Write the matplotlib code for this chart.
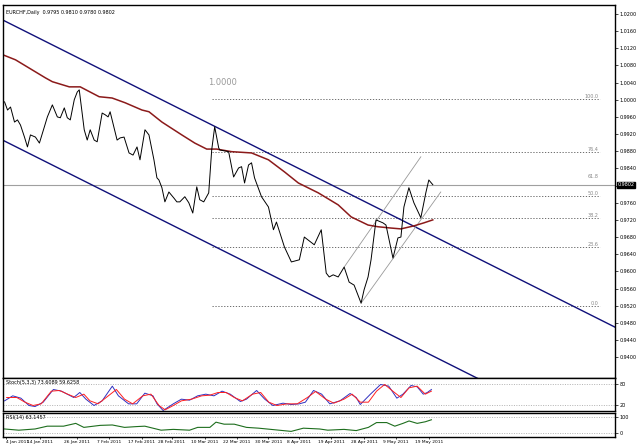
import matplotlib
matplotlib.use("Agg")
import matplotlib.pyplot as plt
import numpy as np

# ---- data (day index, price) ----
price_day = [0.5,1.25,2,3,3.75,4.5,5.5,6.25,7,8.25,9.25,10.5,11.25,12.5,13.75,14.5,15.5,16.25,17,18,18.75,19.25,20.5,21.25,22,23,23.75,25,25.75,26.5,27,28.75,29.5,30.5,31.75,32.75,33.75,34.5,35.75,36.75,38,38.75,39.25,40,40.75,41.75,43,43.75,44.5,45.75,46.75,47.75,48.75,49.5,50.5,51.75,52.5,53.25,54.25,54.5,56.75,58,59.25,60,60.75,61.75,62.5,63.25,65,66.75,68,68.75,70.75,72.5,74.5,75.75,78.25,80,81.25,82,83,84.25,85.75,87,88.25,90,90.75,91.75,92.5,93.75,95.5,96.25,98,99.25,100,100.75,102,103.25,105,106.25,107,108]
price = [0.9995,0.9976,0.9983,0.9948,0.9953,0.9941,0.9913,0.9890,0.9918,0.9913,0.9899,0.9937,0.9960,0.9988,0.9960,0.9958,0.9981,0.9958,0.9953,1.0000,1.0018,1.0023,0.9930,0.9906,0.9930,0.9906,0.9902,0.9969,0.9965,0.9960,0.9972,0.9906,0.9911,0.9913,0.9876,0.9871,0.9890,0.9860,0.9930,0.9918,0.9860,0.9818,0.9813,0.9795,0.9762,0.9785,0.9771,0.9762,0.9762,0.9774,0.9760,0.9736,0.9797,0.9767,0.9762,0.9783,0.9883,0.9937,0.9888,0.9883,0.9879,0.9820,0.9841,0.9844,0.9806,0.9848,0.9853,0.9818,0.9774,0.9750,0.9697,0.9715,0.9657,0.9622,0.9627,0.9680,0.9662,0.9697,0.9596,0.9587,0.9592,0.9587,0.9610,0.9575,0.9568,0.9526,0.9557,0.9587,0.9627,0.9720,0.9713,0.9708,0.9631,0.9678,0.9680,0.9750,0.9795,0.9760,0.9725,0.9783,0.9813,0.9802]
ma_day = [0,3.25,8.25,10.75,12.5,16.75,19.5,24.25,27.5,30.75,35,36.75,40,45,48.25,51.25,53.75,57.5,62.5,66.75,70.75,74.25,79.25,84.25,87.5,91.75,94.25,97.5,100,103.25,105.75,108]
ma = [1.0105,1.0093,1.0065,1.0051,1.0042,1.0030,1.0030,1.0007,1.0004,0.9993,0.9976,0.9972,0.9948,0.9918,0.9899,0.9885,0.9885,0.9879,0.9876,0.9860,0.9832,0.9806,0.9783,0.9755,0.9727,0.9708,0.9704,0.9701,0.9699,0.9706,0.9713,0.9720]
chan_upper_day = [0, 153.75]
chan_upper = [1.0186, 0.9470]
chan_lower_day = [0, 153.75]
chan_lower = [0.9906, 0.9190]
trend_a_day = [85.75, 105]
trend_a = [0.9610, 0.9867]
trend_b_day = [90, 110]
trend_b = [0.9526, 0.9785]
fib_labels = ["100.0", "76.4", "50.0", "38.2", "23.6", "0.0"]
fib_levels = [1.0002, 0.9879, 0.9776, 0.9725, 0.9657, 0.9519]
last_price = 0.9802
yticks = [round(1.02 - 0.004 * i, 4) for i in range(21)]

stoch_zx = [5,25,45,65,80,100,125,145,175,190,205,225,245,270,285,310,330,350,370,380,395,420,440,460,480,500,520,540,560,585,600,625,645,665,690,710,730,745,765,785,805,830,855,870,880,905,930,950,970,985,1005,1020,1035,1045,1055]
stoch_k = [31,46,39,17,14,27,65,60,41,56,36,17,31,75,46,22,22,54,46,22,2,22,36,33,46,51,46,60,51,29,36,62,36,17,24,20,22,27,62,51,22,31,53,41,20,51,80,75,39,51,77,73,51,56,65]
stoch_dzx = [10,35,55,75,95,120,140,160,180,200,215,235,255,280,300,320,345,365,385,400,420,440,465,490,510,530,550,570,590,615,635,655,675,700,725,750,770,795,815,840,860,880,900,920,940,960,980,1000,1020,1040,1055]
stoch_d = [41,41,27,17,22,60,62,51,41,51,31,22,41,65,36,22,46,51,17,4,17,31,36,46,48,56,56,41,31,51,56,27,17,22,22,41,59,36,24,36,51,27,27,60,80,60,41,70,75,51,60]
rsi_zx = [5,40,80,110,150,180,200,240,270,300,330,350,390,420,460,480,510,525,545,570,600,630,670,710,740,780,800,840,870,900,920,945,965,985,1000,1020,1040,1055]
rsi = [40,37,40,47,47,54,44,49,50,44,46,47,37,39,37,44,44,57,52,52,44,42,38,34,42,40,37,39,36,44,56,56,47,54,60,54,58,63]
date_days = [0.75,9.5,18.75,26.75,35,42.5,50.75,58.75,66.75,74.5,82.5,90.75,98.75,107]
date_labels = ["4 Jan 2011","14 Jan 2011","26 Jan 2011","7 Feb 2011","17 Feb 2011","28 Feb 2011","10 Mar 2011","22 Mar 2011","30 Mar 2011","8 Apr 2011","19 Apr 2011","28 Apr 2011","9 May 2011","19 May 2011"]

XMAX = 153.75
fig = plt.figure(figsize=(6.4, 4.45), dpi=100)
ax = fig.add_axes([0.004, 0.151, 0.957, 0.838])
ax2 = fig.add_axes([0.004, 0.076, 0.957, 0.075])
ax3 = fig.add_axes([0.004, 0.018, 0.957, 0.054])
for a in (ax, ax2, ax3):
    a.set_xlim(0, XMAX)
    a.yaxis.tick_right()
    a.tick_params(axis='both', labelsize=3.5, length=2, width=0.5, pad=1)
    for s in a.spines.values():
        s.set_linewidth(1.0)
    a.set_xticks([])

ax.set_ylim(0.9352, 1.0221)
ax.set_yticks(yticks)
ax.set_yticklabels(["" if abs(v - 0.98) < 1e-6 else f"{v:.4f}" for v in yticks])
ax.axhline(last_price, color="#a0a0a0", lw=0.8)
for lab, lv in zip(fib_labels, fib_levels):
    ax.plot([52.5, 150], [lv, lv], color="#555555", lw=0.6, ls=(0, (1.5, 2)))
    ax.text(149.5, lv, lab, fontsize=3.5, color="#888888", ha="right", va="bottom")
ax.text(149.5, 0.9816, "61.8", fontsize=3.5, color="#888888", ha="right", va="bottom")
ax.text(51.5, 1.0035, "1.0000", fontsize=6, color="#999999")
ax.plot(chan_upper_day, chan_upper, color="#10107a", lw=1.0)
ax.plot(chan_lower_day, chan_lower, color="#10107a", lw=1.0)
ax.plot(trend_a_day, trend_a, color="#999999", lw=0.6)
ax.plot(trend_b_day, trend_b, color="#999999", lw=0.6)
ax.plot(ma_day, ma, color="#8b1a1a", lw=1.1)
ax.plot(price_day, price, color="black", lw=0.7)
ax.text(0.006, 0.985, "EURCHF,Daily  0.9795 0.9810 0.9780 0.9802", transform=ax.transAxes,
        fontsize=3.5, va="top")
ax.text(XMAX + 0.6, last_price, f"{last_price:.4f}", fontsize=3.5, color="white", va="center",
        ha="left", bbox=dict(boxstyle="square,pad=0.1", fc="black", ec="black"), clip_on=False)

sd = np.array(stoch_zx) / 9.8
dd = np.array(stoch_dzx) / 9.8
ax2.set_ylim(0, 100)
ax2.set_yticks([80, 20])
ax2.set_yticklabels(["80", "20"])
for lv in (80, 20):
    ax2.axhline(lv, color="#999999", lw=0.5, ls=(0, (1.5, 2)))
ax2.plot(sd, stoch_k, color="#3030c0", lw=0.7)
ax2.plot(dd, stoch_d, color="#ff2020", lw=0.7)
ax2.text(0.005, 0.93, "Stoch(5,3,3) 73.6089 59.6258", transform=ax2.transAxes, fontsize=3.5, va="top")

rd = np.array(rsi_zx) / 9.8
ax3.set_ylim(20, 80)
ax3.set_yticks([70, 30])
ax3.set_yticklabels(["100", "0"])
for lv in (70, 30):
    ax3.axhline(lv, color="#999999", lw=0.5, ls=(0, (1.5, 2)))
ax3.plot(rd, rsi, color="#1e6e1e", lw=0.8)
ax3.text(0.005, 0.93, "RSI(14) 63.1457", transform=ax3.transAxes, fontsize=3.5, va="top")
ax3.set_xticks(date_days)
ax3.set_xticklabels(date_labels, fontsize=3.2)
ax3.get_xticklabels()[0].set_horizontalalignment("left")
ax3.tick_params(axis='x', length=1.5, pad=0.5)

fig.savefig("out.png", dpi=100)
